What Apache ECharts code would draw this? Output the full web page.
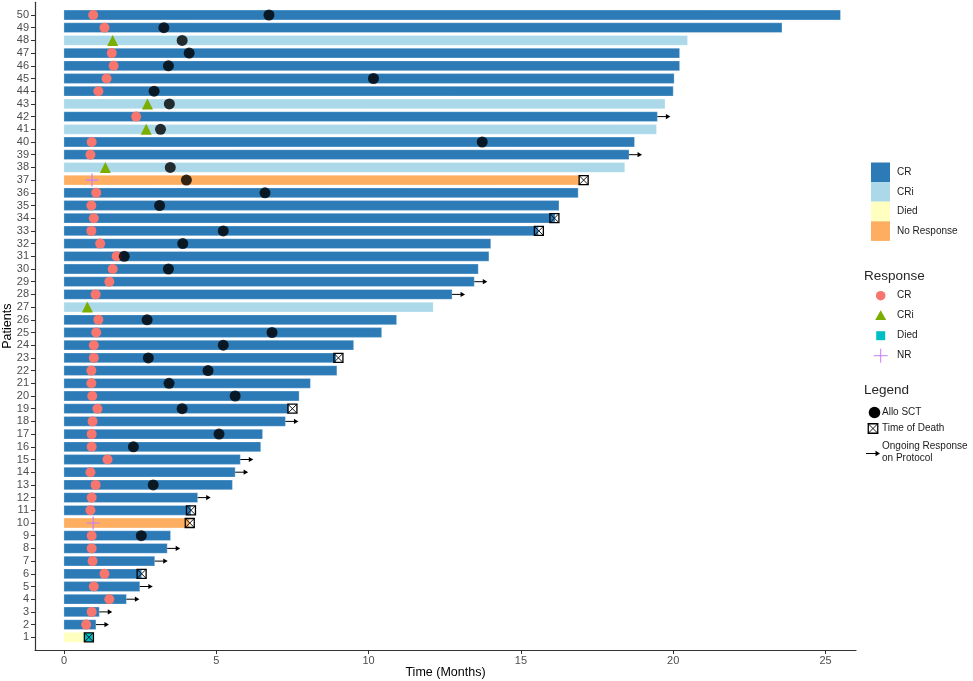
<!DOCTYPE html>
<html>
<head>
<meta charset="utf-8">
<script src="https://cdn.jsdelivr.net/npm/echarts@6/dist/echarts.min.js"></script>
<style>
html,body{margin:0;padding:0;background:#fff;}
#chart{width:973px;height:681px;}
</style>
</head>
<body>
<div id="chart"></div>
<script>
// ---------------- data ----------------
const patients = Array.from({length: 50}, (_, i) => i + 1);
// bar status per patient (1..50)
const barStatus = [
  'Died','CR','CR','CR','CR','CR','CR','CR','CR','No Response',
  'CR','CR','CR','CR','CR','CR','CR','CR','CR','CR',
  'CR','CR','CR','CR','CR','CR','CRi','CR','CR','CR',
  'CR','CR','CR','CR','CR','CR','No Response','CRi','CR','CR',
  'CRi','CR','CRi','CR','CR','CR','CR','CRi','CR','CR'
];
// time on study (months)
const endTime = [
  0.80, 1.05, 1.16, 2.05, 2.49, 2.55, 2.98, 3.39, 3.50, 4.12,
  4.17, 4.39, 5.53, 5.62, 5.79, 6.46, 6.52, 7.27, 7.38, 7.72,
  8.09, 8.96, 8.93, 9.51, 10.43, 10.92, 12.12, 12.74, 13.47, 13.60,
  13.95, 14.01, 15.57, 16.12, 16.25, 16.88, 16.93, 18.41, 18.55, 18.73,
  19.45, 19.48, 19.73, 20.00, 20.03, 20.21, 20.21, 20.47, 23.57, 25.49
];
// response type and time
const responseType = [
  'Died','CR','CR','CR','CR','CR','CR','CR','CR','NR',
  'CR','CR','CR','CR','CR','CR','CR','CR','CR','CR',
  'CR','CR','CR','CR','CR','CR','CRi','CR','CR','CR',
  'CR','CR','CR','CR','CR','CR','NR','CRi','CR','CR',
  'CRi','CR','CRi','CR','CR','CR','CR','CRi','CR','CR'
];
const responseTime = [
  0.80, 0.73, 0.91, 1.49, 0.98, 1.33, 0.94, 0.91, 0.91, 0.96,
  0.87, 0.91, 1.04, 0.87, 1.43, 0.91, 0.91, 0.94, 1.10, 0.93,
  0.90, 0.90, 0.98, 0.98, 1.06, 1.13, 0.77, 1.04, 1.49, 1.60,
  1.73, 1.19, 0.90, 0.98, 0.90, 1.06, 0.92, 1.36, 0.87, 0.91,
  2.70, 2.37, 2.74, 1.13, 1.40, 1.63, 1.57, 1.60, 1.33, 0.96
];
// Allo SCT time (null = none)
const sctTime = [
  null, null, null, null, null, null, null, null, 2.54, null,
  null, null, 2.93, null, null, 2.28, 5.09, null, 3.88, 5.62,
  3.45, 4.73, 2.77, 5.23, 6.83, 2.73, null, null, null, 3.43,
  1.98, 3.90, 5.23, null, 3.14, 6.60, 4.02, 3.49, null, 13.73,
  3.17, null, 3.46, 2.96, 10.16, 3.43, 4.11, 3.88, 3.28, 6.73
];
// time of death (null = none)
const deathTime = [
  0.82, null, null, null, null, 2.55, null, null, null, 4.13,
  4.17, null, null, null, null, null, null, null, 7.50, null,
  null, null, 9.01, null, null, null, null, null, null, null,
  null, null, 15.59, 16.10, null, null, 17.06, null, null, null,
  null, null, null, null, null, null, null, null, null, null
];
// ongoing response on protocol (arrow)
const ongoing = [
  false, true, true, true, true, false, true, true, false, false,
  false, true, false, true, true, false, false, true, false, false,
  false, false, false, false, false, false, false, true, true, false,
  false, false, false, false, false, false, false, false, true, false,
  false, true, false, false, false, false, false, false, false, false
];
const xTicks = [0, 5, 10, 15, 20, 25];
const barCategories = ['CR', 'CRi', 'Died', 'No Response'];
const responseCategories = ['CR', 'CRi', 'Died', 'NR'];

// ---------------- styles ----------------
const barColors = {'CR': '#2c7bb6', 'CRi': '#abd9e9', 'Died': '#ffffbf', 'No Response': '#fdae61'};
const respColors = {'CR': '#F8766D', 'CRi': '#7CAE00', 'Died': '#00BFC4', 'NR': '#C77CFF'};
const plusPath = 'path://M0,4.55H10V5.45H0Z M4.55,0H5.45V10H4.55Z';
const respSymbols = {'CR': 'circle', 'CRi': 'triangle', 'Died': 'rect', 'NR': plusPath};
const respSizes = {'CR': 10, 'CRi': 11, 'Died': 9, 'NR': 13};
const FONT = '"Liberation Sans", Arial, sans-serif';

const barData = patients.map((p, i) => ({value: [endTime[i], p], itemStyle: {color: barColors[barStatus[i]]}}));

const respSeries = responseCategories.map(rt => ({
  type: 'scatter',
  name: 'resp-' + rt,
  symbol: respSymbols[rt],
  symbolSize: respSizes[rt],
  itemStyle: {color: respColors[rt], opacity: 1},
  z: 3,
  silent: true,
  data: patients.map((p, i) => responseType[i] === rt ? [responseTime[i], p] : null).filter(d => d)
}));

const sctData = patients.map((p, i) => sctTime[i] != null ? [sctTime[i], p] : null).filter(d => d);
const deathData = patients.map((p, i) => deathTime[i] != null ? [deathTime[i], p] : null).filter(d => d);
const arrowData = patients.map((p, i) => ongoing[i] ? [endTime[i], p] : null).filter(d => d);

function deathBox(x, y, s) {
  const h = s / 2;
  return {
    type: 'group',
    children: [
      {type: 'rect', shape: {x: x - h, y: y - h, width: s, height: s}, style: {fill: 'none', stroke: '#000', lineWidth: 1.3}},
      {type: 'line', shape: {x1: x - h, y1: y - h, x2: x + h, y2: y + h}, style: {stroke: '#000', lineWidth: 0.9}},
      {type: 'line', shape: {x1: x - h, y1: y + h, x2: x + h, y2: y - h}, style: {stroke: '#000', lineWidth: 0.9}}
    ]
  };
}

const option = {
  backgroundColor: '#ffffff',
  animation: false,
  grid: {left: 35, right: 117, top: 2.3, bottom: 31, containLabel: false, outerBoundsMode: 'none'},
  xAxis: {
    type: 'value', min: -0.95, max: 26,
    name: 'Time (Months)', nameLocation: 'middle', nameGap: 16, nameMoveOverlap: false,
    nameTextStyle: {fontFamily: FONT, fontSize: 12.5, color: '#000'},
    axisLine: {show: true, onZero: false, lineStyle: {color: '#333', width: 1.2}},
    axisTick: {show: true, length: 4, customValues: xTicks, lineStyle: {color: '#333'}},
    axisLabel: {customValues: xTicks, margin: 5, fontFamily: FONT, fontSize: 11, color: '#4d4d4d'},
    splitLine: {show: false}
  },
  yAxis: {
    type: 'value', min: 0, max: 51,
    name: 'Patients', nameLocation: 'middle', nameGap: 21, nameRotate: 90, nameMoveOverlap: false,
    nameTextStyle: {fontFamily: FONT, fontSize: 12.5, color: '#000'},
    axisLine: {show: true, onZero: false, lineStyle: {color: '#333', width: 1.2}},
    axisTick: {show: true, length: 4, customValues: patients, lineStyle: {color: '#333'}},
    axisLabel: {customValues: patients, margin: 6, fontFamily: FONT, fontSize: 11, color: '#4d4d4d'},
    splitLine: {show: false}
  },
  series: [
    {
      type: 'custom', name: 'bars', z: 1, silent: true,
      encode: {x: 0, y: 1},
      data: barData,
      renderItem: function (params, api) {
        const y = api.value(1);
        const p0 = api.coord([0, y]);
        const p1 = api.coord([api.value(0), y]);
        const h = api.size([0, 1])[1] * 0.77;
        return {
          type: 'rect',
          shape: {x: p0[0], y: p0[1] - h / 2, width: p1[0] - p0[0], height: h},
          style: {fill: api.visual('color'), stroke: 'rgba(255,255,255,0.35)', lineWidth: 0.8}
        };
      }
    },
    ...respSeries,
    {
      type: 'scatter', name: 'Allo SCT', symbol: 'circle', symbolSize: 11, z: 4, silent: true,
      itemStyle: {color: '#000'}, data: sctData
    },
    {
      type: 'custom', name: 'Ongoing', z: 5, silent: true,
      encode: {x: 0, y: 1}, data: arrowData,
      renderItem: function (params, api) {
        const p = api.coord([api.value(0), api.value(1)]);
        return {
          type: 'group',
          children: [
            {type: 'line', shape: {x1: p[0], y1: p[1], x2: p[0] + 9.5, y2: p[1]}, style: {stroke: '#000', lineWidth: 1}},
            {type: 'polygon', shape: {points: [[p[0] + 13, p[1]], [p[0] + 8.5, p[1] - 2.6], [p[0] + 8.5, p[1] + 2.6]]}, style: {fill: '#000'}}
          ]
        };
      }
    },
    {
      type: 'custom', name: 'Death', z: 6, silent: true,
      encode: {x: 0, y: 1}, data: deathData,
      renderItem: function (params, api) {
        const p = api.coord([api.value(0), api.value(1)]);
        return deathBox(p[0], p[1], 9);
      }
    }
  ],
  graphic: []
};

// ---------------- legends (graphic) ----------------
const g = [];
const txt = (x, y, t, size, extra) => Object.assign({
  type: 'text', x: x, y: y,
  style: {text: t, fontFamily: FONT, fontSize: size || 10, fill: '#1a1a1a', verticalAlign: 'middle', align: 'left'}
}, extra || {});
// bar colour key
barCategories.forEach((c, i) => {
  const y0 = 162.5 + i * 19.6;
  g.push({type: 'rect', shape: {x: 871, y: y0, width: 19, height: 19.6}, style: {fill: barColors[c]}});
  g.push(txt(897, y0 + 10, c));
});
// Response key
g.push(txt(864, 276, 'Response', 13.5, {}));
g[g.length - 1].style.fill = '#262626';
responseCategories.forEach((c, i) => {
  const y = 295.7 + i * 20;
  let el;
  if (c === 'CR') el = {type: 'circle', shape: {cx: 880.7, cy: y, r: 4.8}, style: {fill: respColors[c]}};
  else if (c === 'CRi') el = {type: 'polygon', shape: {points: [[880.7, y - 5.5], [875.2, y + 4.2], [886.2, y + 4.2]]}, style: {fill: respColors[c]}};
  else if (c === 'Died') el = {type: 'rect', shape: {x: 876.2, y: y - 4.5, width: 9, height: 9}, style: {fill: respColors[c]}};
  else el = {type: 'group', children: [
    {type: 'rect', shape: {x: 873.7, y: y - 0.5, width: 14, height: 1}, style: {fill: respColors[c]}},
    {type: 'rect', shape: {x: 880.2, y: y - 7, width: 1, height: 14}, style: {fill: respColors[c]}}
  ]};
  g.push(el);
  g.push(txt(897, y, c));
});
// Marker legend
g.push(txt(864, 390, 'Legend', 13.5));
g[g.length - 1].style.fill = '#262626';
g.push({type: 'circle', shape: {cx: 874.5, cy: 412.5, r: 5.8}, style: {fill: '#000'}});
g.push(txt(882, 412.5, 'Allo SCT'));
g.push(deathBox(873, 428.5, 9.5));
g.push(txt(882, 428.5, 'Time of Death'));
g.push({type: 'line', shape: {x1: 866, y1: 453.5, x2: 876, y2: 453.5}, style: {stroke: '#000', lineWidth: 1}});
g.push({type: 'polygon', shape: {points: [[880, 453.5], [875.5, 450.8], [875.5, 456.2]]}, style: {fill: '#000'}});
g.push(txt(882, 446.5, 'Ongoing Response'));
g.push(txt(882, 458.5, 'on Protocol'));
option.graphic = g;

const chart = echarts.init(document.getElementById('chart'), null, {renderer: 'canvas'});
chart.setOption(option);
</script>
</body>
</html>
